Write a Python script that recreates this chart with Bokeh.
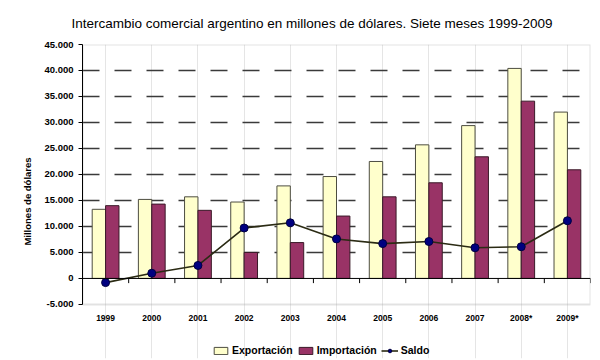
from bokeh.plotting import figure
from bokeh.models import (ColumnDataSource, FactorRange, Range1d, FixedTicker,
                          Legend, LegendItem, Span, BoxAnnotation)
from bokeh.core.properties import value
from bokeh.transform import dodge
from bokeh.embed import file_html
from bokeh.resources import INLINE

years = ["1999", "2000", "2001", "2002", "2003", "2004", "2005", "2006", "2007", "2008*", "2009*"]
exportacion = [13300, 15200, 15700, 14700, 17800, 19600, 22500, 25700, 29400, 40400, 32000]
importacion = [14000, 14300, 13100, 5000, 6900, 12000, 15700, 18400, 23400, 34100, 20900]
saldo = [-800, 1000, 2500, 9700, 10700, 7600, 6700, 7100, 5900, 6100, 11100]
y_ticks = [-5000, 0, 5000, 10000, 15000, 20000, 25000, 30000, 35000, 40000, 45000]
y_tick_labels = ["-5.000", "0", "5.000", "10.000", "15.000", "20.000", "25.000",
                 "30.000", "35.000", "40.000", "45.000"]
grid_ticks = [5000, 10000, 15000, 20000, 25000, 30000, 35000, 40000]

FONT = "Liberation Sans"
Y_MIN, Y_MAX = -5000, 45000      # plotted value range (bordered box)
Y_BOTTOM = -15400                # extra room below the box for category labels + legend
LABEL_Y = -7600                  # vertical position of the category labels
TICK_LEN = 900                   # length of category boundary ticks below the zero line

src = ColumnDataSource(dict(year=years, exp=exportacion, imp=importacion, saldo=saldo,
                            zero=[0] * len(years), tick=[-TICK_LEN] * len(years)))

p = figure(width=600, height=360, x_range=FactorRange(*years), y_range=Range1d(Y_BOTTOM, Y_MAX),
           output_backend="svg", toolbar_location=None, x_axis_location=None,
           min_border_left=82, min_border_right=10, min_border_top=33, min_border_bottom=2,
           title="Intercambio comercial argentino en millones de dólares. Siete meses 1999-2009")

p.title.text_font = FONT
p.title.text_font_size = "13.5px"
p.title.text_font_style = "normal"
p.title.align = "left"
p.title.offset = -11
p.title.standoff = 27
p.title.text_color = "#000000"

p.outline_line_color = None
p.add_layout(BoxAnnotation(bottom=Y_MIN, top=Y_MAX, fill_color=None, fill_alpha=0,
                           line_color="#A0A0A0", line_width=2, level="underlay"))

p.ygrid.ticker = FixedTicker(ticks=grid_ticks)
p.ygrid.grid_line_color = "#3a3a3a"
p.ygrid.grid_line_width = 1.4
p.ygrid.grid_line_dash = "17 15"

yax = p.yaxis[0]
yax.bounds = (Y_MIN, Y_MAX)
yax.ticker = FixedTicker(ticks=y_ticks)
yax.major_label_overrides = {t: l for t, l in zip(y_ticks, y_tick_labels)}
yax.minor_tick_line_color = None
yax.major_tick_in = 0
yax.major_tick_out = 4
yax.major_label_standoff = 5
yax.axis_line_color = "#000000"
yax.major_tick_line_color = "#000000"
yax.major_label_text_font = FONT
yax.major_label_text_font_size = "9.5px"
yax.major_label_text_font_style = "bold"
yax.major_label_text_color = "#000000"
yax.axis_label = "Millones de dólares"
yax.axis_label_text_font = FONT
yax.axis_label_text_font_size = "9.5px"
yax.axis_label_text_font_style = "bold"
yax.axis_label_text_color = "#000000"
yax.axis_label_standoff = 8

r_exp = p.vbar(x=dodge("year", -0.145, range=p.x_range), top="exp", bottom=0, width=0.29,
               source=src, fill_color="#FFFFCC", line_color="#4d4d40", line_width=1)
r_imp = p.vbar(x=dodge("year", 0.145, range=p.x_range), top="imp", bottom=0, width=0.29,
               source=src, fill_color="#993366", line_color="#3a1a28", line_width=1)

p.add_layout(Span(location=0, dimension="width", line_color="#000000", line_width=1))
p.segment(x0=dodge("year", 0.5, range=p.x_range), y0="zero",
          x1=dodge("year", 0.5, range=p.x_range), y1="tick",
          source=src, line_color="#000000", line_width=1)

r_line = p.line(x="year", y="saldo", source=src, line_color="#2b2b14", line_width=1.6)
r_pts = p.scatter(x="year", y="saldo", source=src, size=8, fill_color="#000080",
                  line_color="#000040", line_width=1)

# category labels
p.text(x="year", y=LABEL_Y, text="year", source=src, text_font=value(FONT),
       text_font_size="8.5px", text_font_style="bold", text_color="#000000",
       text_align="center", text_baseline="middle")

legend = Legend(items=[LegendItem(label="Exportación", renderers=[r_exp]),
                       LegendItem(label="Importación", renderers=[r_imp]),
                       LegendItem(label="Saldo", renderers=[r_line, r_pts])],
                orientation="horizontal", location=(130, 2),
                background_fill_alpha=0, border_line_color=None,
                glyph_width=17, glyph_height=9, label_standoff=3, spacing=4,
                padding=2, margin=0,
                label_text_font=FONT, label_text_font_size="10.5px",
                label_text_font_style="bold", label_text_color="#000000",
                label_height=10)
p.add_layout(legend, "center")

open("out.html", "w").write(file_html(p, INLINE))
